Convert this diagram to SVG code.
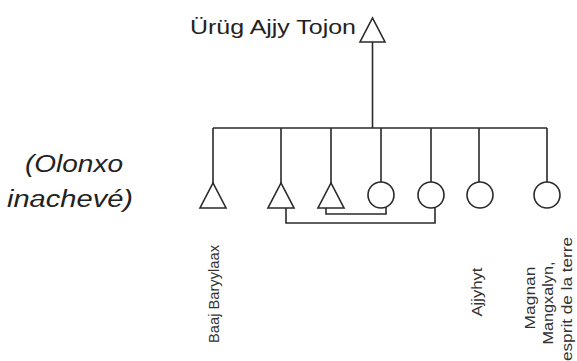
<svg xmlns="http://www.w3.org/2000/svg" width="577" height="361" viewBox="0 0 577 361">
<style>
.ln{fill:none;stroke:#2a2a2a;stroke-width:1.6}
.sym{fill:#fff;stroke:#2a2a2a;stroke-width:1.6}
.t{font-family:"Liberation Sans",Arial,sans-serif;fill:#222}
.v{font-size:15px;text-anchor:middle;fill:#333}
</style>
<rect width="577" height="361" fill="#fff"/>
<g id="connectors">
<path class="ln" d="M372.5 42V128"/>
<path class="ln" d="M213 128H547"/>
<path class="ln" d="M213 128V183M281 128V183M331 128V183M381 128V182M431 128V182M479 128V182M547 128V182"/>
<path class="ln" d="M326 208V214H386V207"/>
<path class="ln" d="M286 208V223H435V207"/>
</g>
<g id="top">
<polygon class="sym" points="360,42 385,42 372.5,18"/>
<text class="t" x="190" y="34" font-size="21" textLength="166" lengthAdjust="spacingAndGlyphs">Ürüg Ajjy Tojon</text>
</g>
<g id="note">
<text class="t" x="25" y="172" font-size="23" font-style="italic" textLength="98" lengthAdjust="spacingAndGlyphs">(Olonxo</text>
<text class="t" x="7" y="207" font-size="23" font-style="italic" textLength="126" lengthAdjust="spacingAndGlyphs">inachevé)</text>
</g>
<g id="c1">
<polygon class="sym" points="200,208 226,208 213,183"/>
<text class="t v" transform="translate(219,294) rotate(-90)" textLength="98" lengthAdjust="spacingAndGlyphs">Baaj Baryylaax</text>
</g>
<g id="c2">
<polygon class="sym" points="268,208 294,208 281,183"/>
</g>
<g id="c3">
<polygon class="sym" points="318,208 344,208 331,183"/>
</g>
<g id="c4">
<circle class="sym" cx="381" cy="195" r="13"/>
</g>
<g id="c5">
<circle class="sym" cx="431" cy="195" r="13"/>
</g>
<g id="c6">
<circle class="sym" cx="480" cy="195" r="13"/>
<text class="t v" transform="translate(482,292) rotate(-90)" textLength="49" lengthAdjust="spacingAndGlyphs">Ajjyhyt</text>
</g>
<g id="c7">
<circle class="sym" cx="547" cy="195" r="13"/>
<text class="t v" transform="translate(535,298) rotate(-90)" textLength="63" lengthAdjust="spacingAndGlyphs">Magnan</text>
<text class="t v" transform="translate(553,303) rotate(-90)" textLength="83" lengthAdjust="spacingAndGlyphs">Mangxalyn,</text>
<text class="t v" transform="translate(572,299) rotate(-90)" textLength="124" lengthAdjust="spacingAndGlyphs">esprit de la terre</text>
</g>
</svg>
